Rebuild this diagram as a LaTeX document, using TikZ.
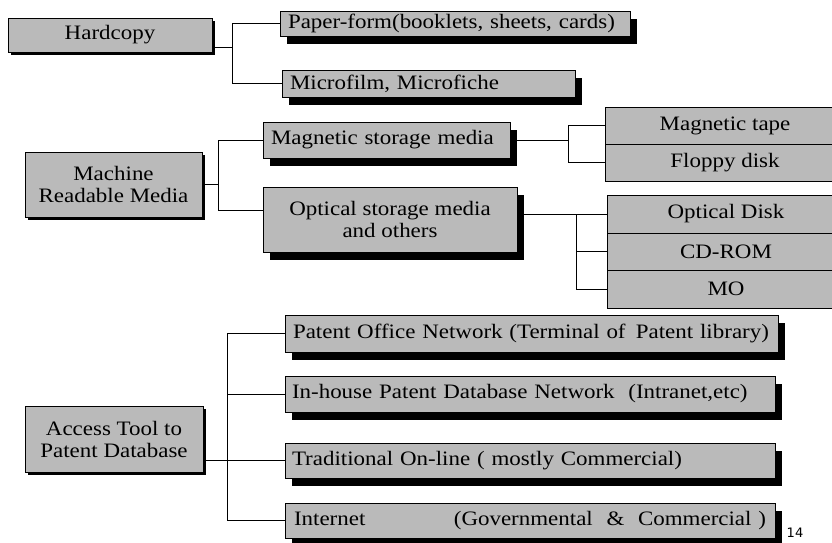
\documentclass[tikz,border=0pt]{standalone}
\usepackage{fontspec}
\setmainfont{Liberation Serif}[FakeStretch=1.12]
\newfontfamily\pagefont{DejaVu Sans}
\usetikzlibrary{shadows,backgrounds}
\tikzset{
  pbox/.style  ={draw, fill=black!27, inner sep=0pt, align=center,
                 font=\fontsize{20.5}{22}\selectfont},
  pshad/.style ={pbox, drop shadow={shadow xshift=7pt, shadow yshift=-8pt,
                 fill=black, opacity=1}},
  pside/.style ={pbox, drop shadow={shadow xshift=3pt, shadow yshift=-3pt,
                 fill=black, opacity=1}},
  pleft/.style ={pshad, align=left, inner xsep=8pt},
  plink/.style ={semithick, black},
}

\begin{document}
\begin{tikzpicture}[x=1pt, y=-1pt]
\useasboundingbox (0,0) rectangle (832,542);
\clip (0,0) rectangle (832,542);

% left column
\node[pside, minimum width=204pt, minimum height=34pt] (hard) at (110,35) {Hardcopy};
\node[pside, minimum width=177pt, minimum height=65pt] (mrm) at (113.5,184.5)
  {Machine\\Readable Media};
\node[pside, minimum width=178pt, minimum height=66pt] (acc) at (114,439)
  {Access Tool to\\Patent Database};

% hardcopy branch
\node[pleft, text width=334pt, minimum height=25pt] (paper) at (455,23.5)
  {Paper-form(booklets, sheets, cards)};
\node[pleft, text width=277pt, minimum height=27pt] (micro) at (428.5,83.5)
  {Microfilm, Microfiche};

% machine readable branch
\node[pleft, text width=231pt, minimum height=36pt] (mag) at (386.5,140)
  {Magnetic storage media};
\node[pshad, minimum width=254pt, minimum height=65pt] (opt) at (390,219.5)
  {Optical storage media\\and others};

\node[pbox, minimum width=240pt, minimum height=37pt] (tape) at (725,125.5) {Magnetic tape};
\node[pbox, minimum width=240pt, minimum height=37pt] (floppy) at (725,162.5) {Floppy disk};

\node[pbox, minimum width=238pt, minimum height=38pt] (odisk) at (726,214) {Optical Disk};
\node[pbox, minimum width=238pt, minimum height=37pt] (cdrom) at (726,251.5) {CD-ROM};
\node[pbox, minimum width=238pt, minimum height=38pt] (mo) at (726,289) {MO};

% access tool branch
\node[pleft, text width=477pt, inner xsep=8pt, minimum height=37pt] (pon) at (531.5,333.5)
  {Patent Office Network (Terminal of\, Patent library)};
\node[pleft, text width=476pt, inner xsep=7pt, minimum height=36pt] (inh) at (530,394)
  {In-house Patent Database Network\ \ (Intranet,etc)};
\node[pleft, text width=476pt, inner xsep=7pt, minimum height=35pt] (trad) at (530,460.5)
  {Traditional On-line ( mostly Commercial)};
\node[pleft, text width=472pt, inner xsep=9pt, minimum height=35pt] (inet) at (530,520.5)
  {Internet\hfill(Governmental\ \ \&\ \ Commercial )};

\node[font=\pagefont\fontsize{13}{13}\selectfont] (pg) at (795,533) {14};

% connectors
\coordinate (hbus) at (232,0);
\coordinate (mbus) at (218,0);
\coordinate (sbus) at (568,0);
\coordinate (obus) at (576,0);
\coordinate (abus) at (227,0);
\coordinate (hout) at ([yshift=5pt]hard.south east);
\coordinate (oin) at ([yshift=9pt]opt.west);

\begin{scope}[on background layer]
\draw[plink] (hout) -- (hout -| hbus);
\draw[plink] (paper.west) -| (hbus |- micro.west) -- (micro.west);

\draw[plink] (mrm.east) -- (mrm.east -| mbus);
\draw[plink] (mag.west) -| (mbus |- oin) -- (oin);

\draw[plink] (mag.east) -- (mag.east -| sbus);
\draw[plink] (tape.west) -| (sbus |- floppy.west) -- (floppy.west);

\draw[plink] (odisk.west) -- (odisk.west -| opt.east);
\draw[plink] (odisk.west -| obus) |- (mo.west);
\draw[plink] (cdrom.west) -- (cdrom.west -| obus);

\draw[plink] (pon.west) -| (abus |- inet.west) -- (inet.west);
\draw[plink] (inh.west) -- (inh.west -| abus);
\draw[plink] (trad.west) -- (trad.west -| acc.east);
\end{scope}

\end{tikzpicture}
\end{document}
